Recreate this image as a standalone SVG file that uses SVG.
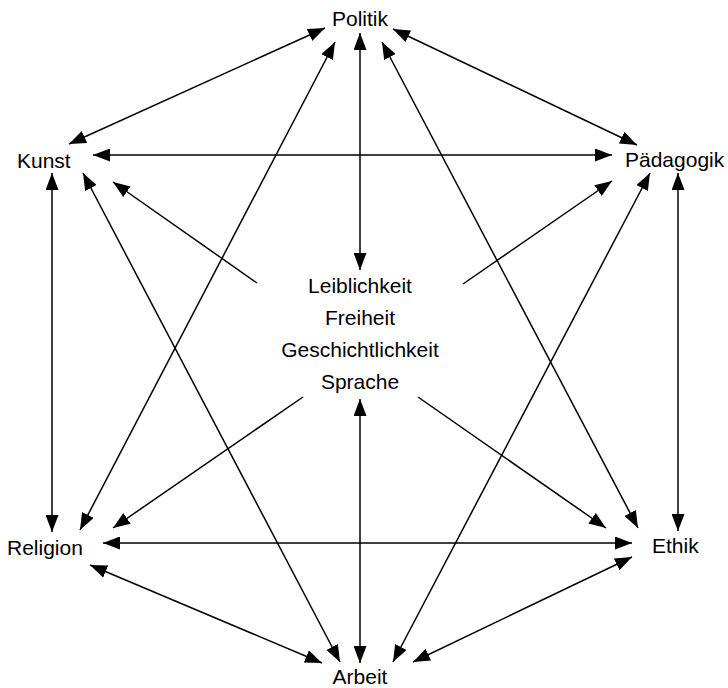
<svg xmlns="http://www.w3.org/2000/svg" width="728" height="688" viewBox="0 0 728 688">
  <style>
    text { font-family: "Liberation Sans", Arial, sans-serif; font-size: 21px; fill: #000; }
    .mid { text-anchor: middle; }
    .link { stroke: #000; stroke-width: 1.5; fill: none; }
    .both { marker-start: url(#head); marker-end: url(#head); }
    .one { marker-end: url(#head); }
  </style>
  <defs>
    <marker id="head" markerUnits="userSpaceOnUse" markerWidth="17" markerHeight="13" refX="17" refY="6.5" orient="auto-start-reverse" viewBox="0 0 17 13">
      <path d="M0,0 L17,6.5 L0,13 Z" fill="#000"/>
    </marker>
  </defs>
  <rect width="728" height="688" fill="#fff"/>

  <g id="connectors">
    <!-- outer hexagon -->
    <line class="link both" x1="325" y1="28" x2="69" y2="144"/>
    <line class="link both" x1="393" y1="29" x2="637" y2="145"/>
    <line class="link both" x1="52" y1="173" x2="52" y2="532"/>
    <line class="link both" x1="678" y1="173" x2="678" y2="531"/>
    <line class="link both" x1="90" y1="565" x2="322" y2="663"/>
    <line class="link both" x1="632" y1="557" x2="413" y2="662"/>
    <!-- horizontals -->
    <line class="link both" x1="93" y1="155" x2="612" y2="155"/>
    <line class="link both" x1="103" y1="543" x2="632" y2="543"/>
    <!-- star -->
    <line class="link both" x1="335" y1="42" x2="80" y2="530"/>
    <line class="link both" x1="382" y1="42" x2="638" y2="528"/>
    <line class="link both" x1="83" y1="173" x2="340" y2="662"/>
    <line class="link both" x1="650" y1="173" x2="393" y2="662"/>
    <!-- centre verticals -->
    <line class="link both" x1="360" y1="33" x2="360" y2="270"/>
    <line class="link both" x1="360" y1="399" x2="360" y2="663"/>
    <!-- centre outwards -->
    <line class="link one" x1="257" y1="283" x2="113" y2="182"/>
    <line class="link one" x1="463" y1="284" x2="612" y2="181"/>
    <line class="link one" x1="303" y1="397" x2="113" y2="528"/>
    <line class="link one" x1="418" y1="397" x2="606" y2="528"/>
  </g>

  <g id="politik"><text class="mid" x="360" y="26">Politik</text></g>
  <g id="kunst"><text x="17" y="168">Kunst</text></g>
  <g id="paedagogik"><text x="625" y="167">Pädagogik</text></g>
  <g id="religion"><text x="7" y="555">Religion</text></g>
  <g id="ethik"><text x="652" y="553">Ethik</text></g>
  <g id="arbeit"><text class="mid" x="360" y="684">Arbeit</text></g>
  <g id="centre">
    <text class="mid" x="360" y="293">Leiblichkeit</text>
    <text class="mid" x="360" y="325">Freiheit</text>
    <text class="mid" x="360" y="357">Geschichtlichkeit</text>
    <text class="mid" x="360" y="389">Sprache</text>
  </g>
</svg>
